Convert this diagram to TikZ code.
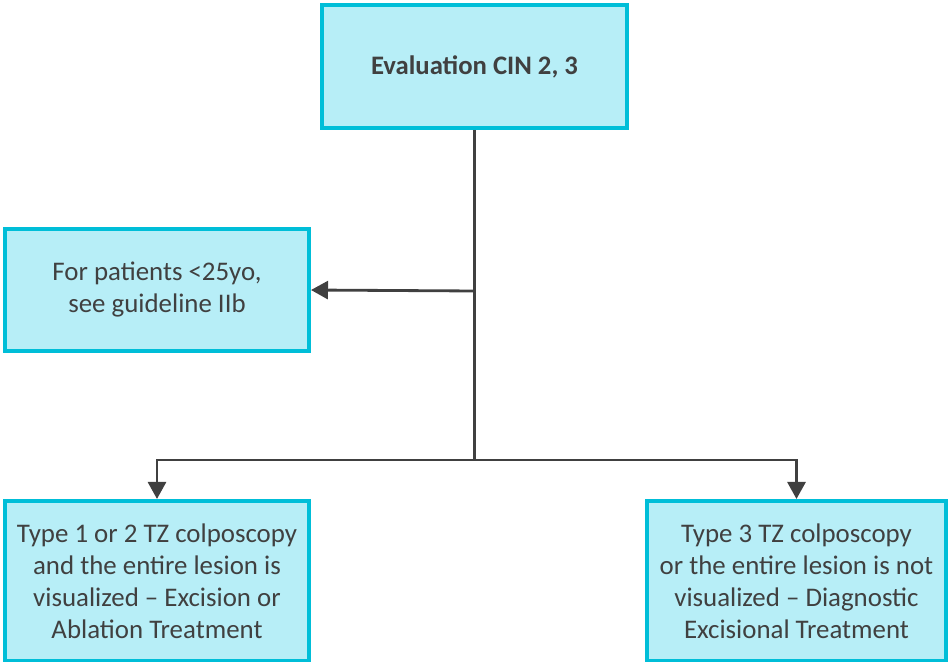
\documentclass[tikz,border=0pt]{standalone}
\usepackage{fontspec}
\setmainfont{Carlito}
\usetikzlibrary{positioning}
\usetikzlibrary{calc}
\usetikzlibrary{arrows.meta}
\definecolor{boxfill}{HTML}{B7EEF7}
\definecolor{boxline}{HTML}{00BED8}
\definecolor{ink}{HTML}{404040}
\tikzset{
  box/.style            = { rectangle, minimum width=6.1cm, inner sep=0pt },
  border/.style         = { line width=2.3pt, draw=boxline, fill=boxfill },
}
\tikzset{
  stage/.style={
    box,
    border,
    text=ink,
    align=center,
    font=\fontsize{15.3}{18.2}\selectfont
  },
  link/.style           = { line width=1.6pt, draw=ink },
  flow/.style           = { link, -{Triangle[length=0.34cm,width=0.36cm]} }
}

\begin{document}
\begin{tikzpicture}[x=0.02cm, y=-0.02cm]
  \useasboundingbox (0,0) rectangle (951,662);
  \node (eval)  [stage, minimum height=2.46cm, font=\fontsize{15.2}{18.2}\selectfont\bfseries] at (474.5,66.5) {Evaluation CIN 2, 3};
  \node (young) [stage, minimum width=6.08cm, minimum height=2.44cm] at (157,290) {For patients <25yo,\\see guideline IIb};
  \node (seen)  [stage, minimum width=6.08cm, minimum height=3.2cm] at (157,581)
    {Type 1 or 2 TZ colposcopy\\and the entire lesion is\\visualized -- Excision or\\Ablation Treatment};
  \node (unseen) [stage, minimum width=5.98cm, minimum height=3.2cm] at (796.5,581)
    {Type 3 TZ colposcopy\\or the entire lesion is not\\visualized -- Diagnostic\\Excisional Treatment};

  \coordinate (split) at (eval.south |- 0,291);
  \coordinate (fork)  at (eval.south |- 0,460);

  \draw [link] (eval.south) -- (fork);
  \draw [flow] (split) -- (young.east);
  \draw [flow] (fork) -| (seen.north);
  \draw [flow] (fork) -| (unseen.north);
\end{tikzpicture}
\end{document}
